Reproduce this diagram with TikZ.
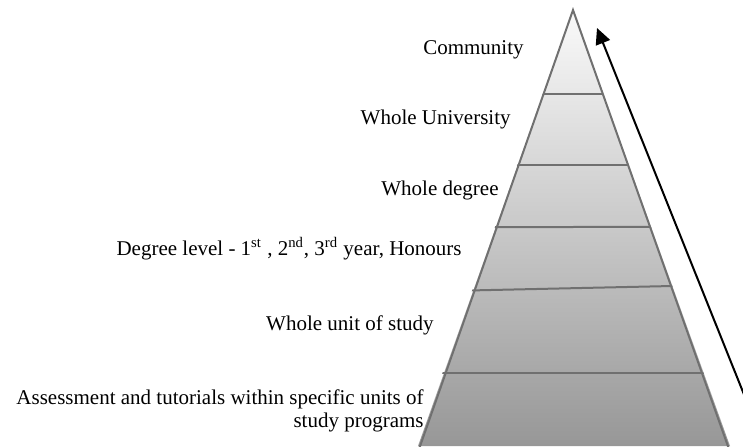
\documentclass[tikz,border=0pt]{standalone}
\usepackage{fontspec}
\setmainfont{Liberation Serif}
\usepackage{tikz}
\usetikzlibrary{arrows.meta}
\definecolor{PyrLine}{HTML}{707070}
\definecolor{PyrTop}{HTML}{FAFAFA}
\definecolor{PyrBottom}{HTML}{979797}

\begin{document}
\begin{tikzpicture}[x=0.5pt,y=-0.5pt]
  \tikzset{lvl/.style={font=\fontsize{10.5}{11.5}\selectfont,anchor=base east,inner sep=0pt}}
  \useasboundingbox (0,0) rectangle (743,446);
  % pyramid
  \path[top color=PyrTop,bottom color=PyrBottom] (573,10) -- (730,446) -- (418,446) -- cycle;
  \begin{scope}
    \clip (573,10) -- (732,452) -- (414,452) -- cycle;
    \draw[PyrLine,line width=1pt] (400,94) -- (740,94);
    \draw[PyrLine,line width=1pt] (400,165) -- (740,165);
    \draw[PyrLine,line width=1pt] (400,227.5) -- (740,226.5);
    \draw[PyrLine,line width=1pt] (400,292) -- (740,284.5);
    \draw[PyrLine,line width=1pt] (400,373) -- (740,373);
  \end{scope}
  \draw[PyrLine,line width=1pt] (418,452) -- (573,10) -- (730,452);
  % levels
  \node[lvl] (comm) at (524,54) {Community};
  \node[lvl] (univ) at (511,124) {Whole University};
  \node[lvl] (degree) at (499,195) {Whole degree};
  \node[lvl] (level) at (462,255)
    {Degree level - 1\textsuperscript{st} , 2\textsuperscript{nd}, 3\textsuperscript{rd} year, Honours};
  \node[lvl] (unit) at (434,330) {Whole unit of study};
  \node[lvl,align=right] (assess) at (424,427)
    {Assessment and tutorials within specific units of\\study programs};
  % arrow
  \coordinate (arrowtail) at (747,402);
  \coordinate (arrowtip) at (597,28);
  \draw[line width=1pt,-{Triangle[length=8pt,width=7.5pt]}] (arrowtail) -- (arrowtip);
\end{tikzpicture}
\end{document}
